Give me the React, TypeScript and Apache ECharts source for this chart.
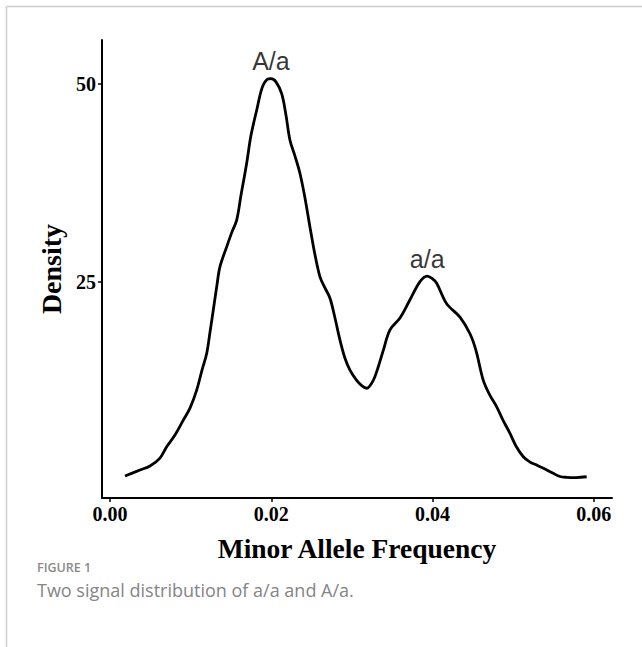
import React, { useEffect, useRef } from "react";
import * as echarts from "echarts";

// Minor allele frequency (x) vs density (y)
const mafValues: number[] = [
  0.00186, 0.00372, 0.00496, 0.0062, 0.00703, 0.00806, 0.00909, 0.00992, 0.01075, 0.01141,
  0.01199, 0.0124, 0.01281, 0.01327, 0.01364, 0.01447, 0.01513, 0.01571, 0.01624, 0.01695,
  0.01748, 0.01819, 0.01885, 0.01947, 0.01996, 0.02058, 0.02129, 0.02182, 0.02232, 0.02294,
  0.02356, 0.02418, 0.0248, 0.02542, 0.02604, 0.02666, 0.02728, 0.0279, 0.02852, 0.02914,
  0.02976, 0.03059, 0.03125, 0.03183, 0.03265, 0.03323, 0.03389, 0.03472, 0.03596, 0.0372,
  0.03844, 0.03934, 0.03993, 0.04051, 0.04175, 0.0434, 0.04464, 0.04538, 0.04629, 0.04712,
  0.04795, 0.04873, 0.0496, 0.05034, 0.05125, 0.05208, 0.05291, 0.05394, 0.05497, 0.0558,
  0.05663, 0.05778, 0.05911,
];
const densityValues: number[] = [
  0.38, 1.14, 1.65, 2.66, 4.09, 5.57, 7.47, 8.99, 11.27, 13.8,
  15.9, 18.6, 21.4, 24.6, 26.9, 29.4, 31.3, 32.8, 35.9, 40.0,
  43.5, 46.7, 49.5, 50.6, 50.7, 50.3, 48.8, 46.1, 42.9, 40.9,
  38.7, 35.6, 31.9, 28.4, 25.6, 24.2, 22.9, 20.4, 17.6, 15.3,
  13.8, 12.5, 11.8, 11.5, 12.5, 14.1, 16.3, 18.9, 20.4, 22.7,
  25.0, 25.7, 25.4, 24.8, 22.2, 20.5, 18.4, 16.3, 12.5, 10.6,
  9.15, 7.47, 5.78, 4.18, 2.82, 2.15, 1.77, 1.27, 0.72, 0.32,
  0.22, 0.19, 0.29,
];
const xTicks: number[] = [0, 0.02, 0.04, 0.06];
const yTicks: number[] = [25, 50];
const peakLabels: string[] = ["A/a", "a/a"];
const peakX: number[] = [0.01996, 0.03934];
const peakY: number[] = [50.7, 25.7];

export default function App() {
  const ref = useRef<HTMLDivElement>(null);
  useEffect(() => {
    if (!ref.current) return;
    const chart = echarts.init(ref.current, undefined, { renderer: "svg" });
    const serif = "'Liberation Serif', 'Times New Roman', serif";
    const data = mafValues.map((x, i) => [x, densityValues[i]]);
    chart.setOption({
      animation: false,
      backgroundColor: "#ffffff",
      grid: { left: 102, top: 40, right: 30, bottom: 149, containLabel: false },
      xAxis: {
        type: "value",
        min: -0.00099,
        max: 0.06225,
        splitLine: { show: false },
        axisLine: { show: true, onZero: false, lineStyle: { color: "#000", width: 2 } },
        axisTick: { show: true, customValues: xTicks, length: 4, lineStyle: { color: "#000", width: 1.5 } },
        axisLabel: {
          customValues: xTicks,
          formatter: (v: number) => v.toFixed(2),
          color: "#000",
          fontFamily: serif,
          fontWeight: "bold",
          fontSize: 20,
          margin: 6,
        },
        name: "Minor Allele Frequency",
        nameLocation: "middle",
        nameGap: 36,
        nameTextStyle: { color: "#000", fontFamily: serif, fontWeight: "bold", fontSize: 27.5 },
      },
      yAxis: {
        type: "value",
        min: -2.4,
        max: 55.6,
        splitLine: { show: false },
        axisLine: { show: true, onZero: false, lineStyle: { color: "#000", width: 2 } },
        axisTick: { show: true, customValues: yTicks, length: 4, lineStyle: { color: "#000", width: 1.5 } },
        axisLabel: {
          customValues: yTicks,
          color: "#000",
          fontFamily: serif,
          fontWeight: "bold",
          fontSize: 20,
          margin: 6,
        },
        name: "Density",
        nameLocation: "middle",
        nameGap: 32,
        nameTextStyle: { color: "#000", fontFamily: serif, fontWeight: "bold", fontSize: 28 },
      },
      series: [
        {
          type: "line",
          data,
          smooth: 0.35,
          showSymbol: false,
          lineStyle: { color: "#000", width: 2.8 },
          silent: true,
        },
        {
          type: "scatter",
          data: peakX.map((x, i) => ({ value: [x, peakY[i]], name: peakLabels[i] })),
          symbolSize: 0,
          label: {
            show: true,
            position: "top",
            distance: 5,
            formatter: (p: any) => p.name,
            color: "#000",
            fontFamily: "'Liberation Sans', Arial, sans-serif",
            fontSize: 25,
          },
          silent: true,
        },
      ],
      graphic: [
        { type: "line", shape: { x1: 6.5, y1: 6.5, x2: 642, y2: 6.5 }, style: { stroke: "#cccccc", lineWidth: 1.5 } },
        { type: "line", shape: { x1: 6.5, y1: 6.5, x2: 6.5, y2: 647 }, style: { stroke: "#cccccc", lineWidth: 1.5 } },
        {
          type: "text",
          left: 37,
          top: 561,
          style: { text: "FIGURE 1", fill: "#8a8a8a", font: "600 12.5px 'Open Sans', sans-serif" },
        },
        {
          type: "text",
          left: 37,
          top: 581,
          style: { text: "Two signal distribution of a/a and A/a.", fill: "#858585", font: "18px 'Open Sans', sans-serif" },
        },
      ],
    });
    return () => chart.dispose();
  }, []);
  return (
    <div
      ref={ref}
      style={{ position: "fixed", left: 0, top: 0, width: 642, height: 647, background: "#fff" }}
    />
  );
}
